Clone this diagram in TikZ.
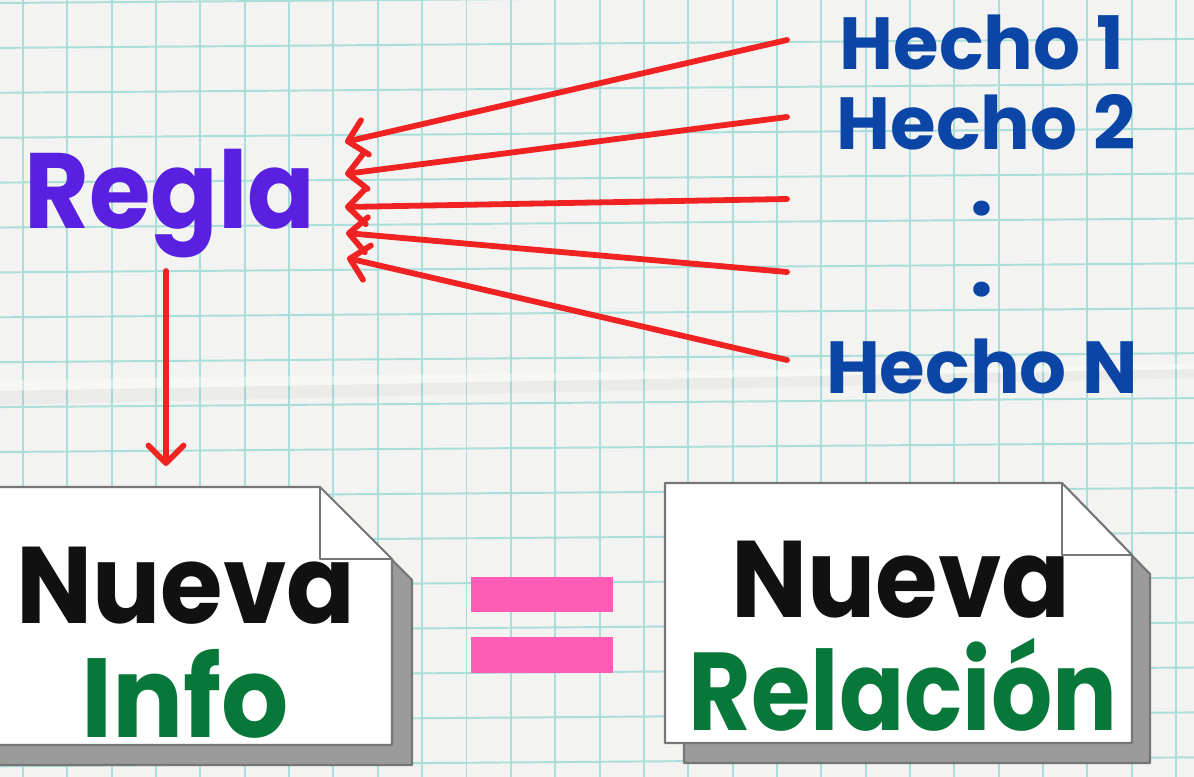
\documentclass[tikz,border=0pt]{standalone}
\usepackage{fontspec}
\setmainfont{Poppins}
\usetikzlibrary{arrows.meta}
\definecolor{paper}{HTML}{F3F3F1}
\definecolor{gridline}{HTML}{A9DEDA}
\definecolor{arrowred}{HTML}{F02222}
\definecolor{reglapurple}{HTML}{5A20E2}
\definecolor{hechoblue}{HTML}{0B46A6}
\definecolor{wordblack}{HTML}{111111}
\definecolor{infogreen}{HTML}{08783A}
\definecolor{equalpink}{HTML}{FF5CB6}
\definecolor{sheetedge}{HTML}{767676}
\definecolor{sheetshadow}{HTML}{9B9B9B}

\begin{document}
\begin{tikzpicture}[
  x=0.02cm,
  y=-0.02cm,
  every node/.style={inner sep=0pt, font=\bfseries},
  redarrow/.style={arrowred, line width=3.3pt, line cap=round,
    -{Straight Barb[length=10pt,width=20pt,round]}},
  hecho/.style={hechoblue, anchor=base, font=\fontsize{42}{42}\selectfont\bfseries},
  bigword/.style={anchor=base, font=\fontsize{62}{62}\selectfont\bfseries},
  sheet/.style={draw=sheetedge, line width=1.2pt, line join=round}
]
  \useasboundingbox (0,0) rectangle (1194,777);
  % paper and grid
  \fill[paper] (0,0) rectangle (1194,777);
  \begin{scope}
    \clip (0,0) rectangle (1194,777);
    \foreach \gx in {0,...,26}
      \draw[gridline, line width=1.1pt] ({23+44.35*\gx},0) -- ({23+44.35*\gx},777);
    \foreach \gy in {0,...,18}
      \draw[gridline, line width=1.1pt] (0,{3+44.9*\gy}) -- (1194,{-6+44.9*\gy});
    % crease
    \fill[white, opacity=0.4] (0,380) -- (1194,364) -- (1194,369) -- (0,391) -- cycle;
    \fill[black, opacity=0.03] (0,391) -- (1194,369) -- (1194,378) -- (0,405) -- cycle;
  \end{scope}

  % rule and facts
  \node[bigword, reglapurple, font=\fontsize{61}{61}\selectfont\bfseries, xscale=0.93] (regla) at (170,228) {Regla};
  \node[hecho] (h1) at (982,70) {Hecho 1};
  \node[hecho] (h2) at (986,150) {Hecho 2};
  \node[hechoblue, font=\fontsize{46}{46}\selectfont\bfseries] (d1) at (982,209) {.};
  \node[hechoblue, font=\fontsize{46}{46}\selectfont\bfseries] (d2) at (982,290) {.};
  \node[hecho] (hn) at (982,393) {Hecho N};

  \coordinate (t1) at (787,40);
  \coordinate (t2) at (787,117);
  \coordinate (t3) at (787,199);
  \coordinate (t4) at (787,272);
  \coordinate (t5) at (787,360);
  \coordinate (r1) at (345,142);
  \coordinate (r2) at (345,174);
  \coordinate (r3) at (345,207);
  \coordinate (r4) at (346,233);
  \coordinate (r5) at (347,258);
  \foreach \i in {1,...,5}
    \draw[redarrow] (t\i) -- (r\i);

  \coordinate (rb) at (166,271);
  \coordinate (it) at (166,466);
  \draw[redarrow] (rb) -- (it);

  % left sheet
  \filldraw[sheet, fill=sheetshadow] (-10,507) -- (340,507) -- (412,580) -- (412,765) -- (-10,765) -- cycle;
  \filldraw[sheet, fill=white] (-10,487) -- (320,487) -- (392,559) -- (392,745) -- (-10,745) -- cycle;
  \draw[sheet] (320,487) -- (320,559) -- (392,559);
  \node[bigword, wordblack, xscale=0.93] (nueva1) at (186,623) {Nueva};
  \node[bigword, infogreen, font=\fontsize{64}{64}\selectfont\bfseries, xscale=0.94] (info) at (185,737) {Info};

  % equals
  \fill[equalpink] (471,577) rectangle (613,612);
  \fill[equalpink] (471,637) rectangle (613,673);

  % right sheet
  \filldraw[sheet, fill=sheetshadow] (684,503) -- (1081,503) -- (1150,574) -- (1150,763) -- (684,763) -- cycle;
  \filldraw[sheet, fill=white] (665,483) -- (1062,483) -- (1132,555) -- (1132,743) -- (665,743) -- cycle;
  \draw[sheet] (1062,483) -- (1062,555) -- (1132,555);
  \node[bigword, wordblack, xscale=0.93] (nueva2) at (901,617) {Nueva};
  \node[bigword, infogreen, font=\fontsize{63}{63}\selectfont\bfseries, xscale=0.87] (rel) at (903,730) {Relación};
\end{tikzpicture}
\end{document}
